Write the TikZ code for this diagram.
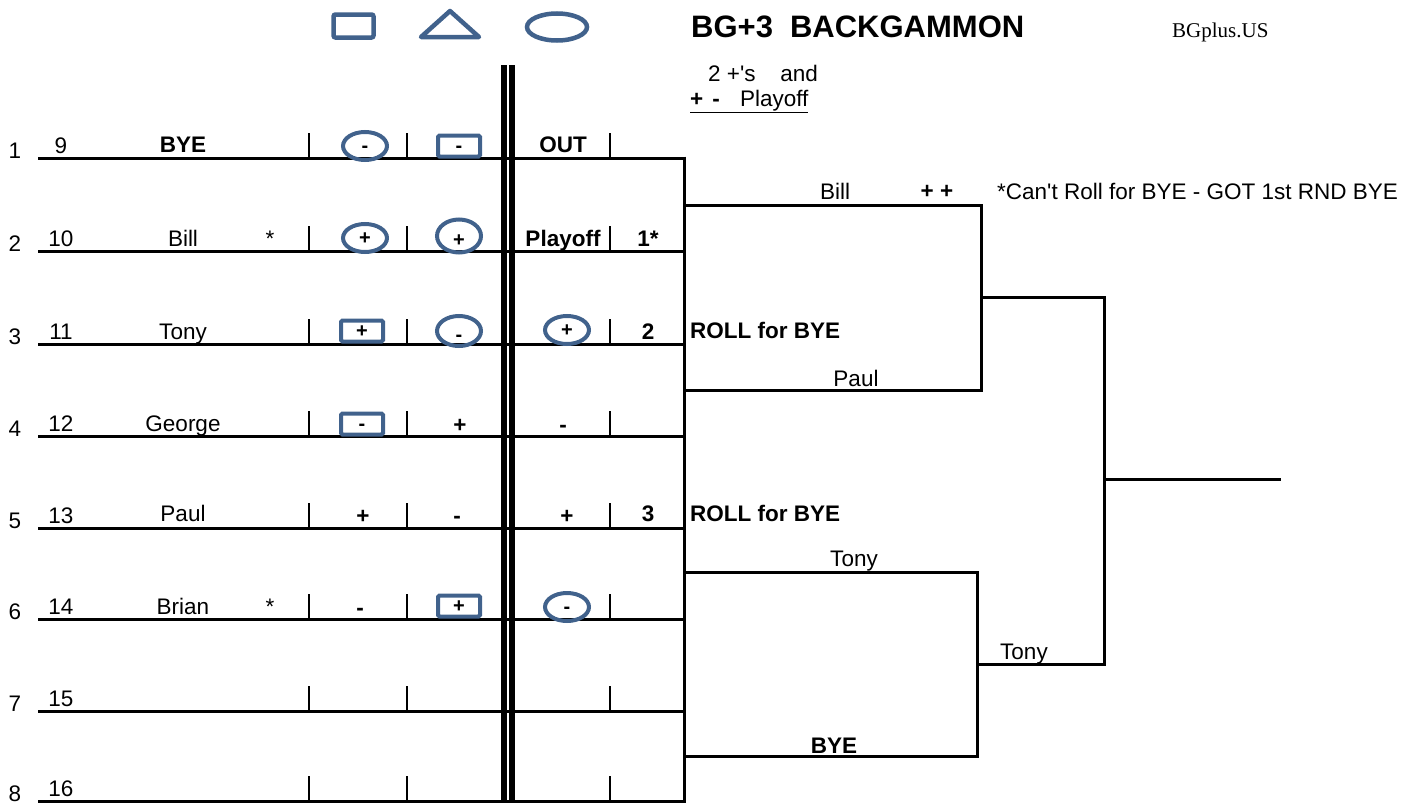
\documentclass[tikz,border=0pt]{standalone}
\usepackage{fontspec}
\setmainfont{Liberation Sans}
\newfontfamily\serifbg{Liberation Serif}
\usetikzlibrary{shapes.geometric}
\definecolor{bgblue}{RGB}{65,98,140}
\newcommand\ctrsign[2][0em]{\raisebox{\dimexpr-0.3em-#1\relax}[0pt][0pt]{#2}}
\begin{document}
\begin{tikzpicture}[x=1pt,y=-1pt,
  txt/.style={font=\fontsize{22.5}{24}\selectfont, inner sep=0pt, anchor=base},
  btxt/.style={font=\fontsize{22.5}{24}\selectfont\bfseries, inner sep=0pt, anchor=base},
  bline/.style={line width=3pt},
  tickline/.style={line width=2.8pt},
  dbar/.style={line width=5.5pt},
  circmark/.style={draw=bgblue, line width=4pt, ellipse, minimum width=44pt, minimum height=28pt, inner sep=0pt, font=\fontsize{20}{20}\selectfont\bfseries},
  rectmark/.style={draw=bgblue, line width=4pt, rectangle, rounded corners=1.5pt, minimum width=42pt, minimum height=21pt, inner sep=0pt, font=\fontsize{20}{20}\selectfont\bfseries}]
\useasboundingbox (0,0) rectangle (1414,803);

% header shapes
\node[draw=bgblue, line width=4.5pt, rounded corners=2pt, minimum width=40pt, minimum height=23pt, inner sep=0pt] (hrect) at (353.5,26) {};
\draw[bgblue, line width=4.5pt, line join=round] (421,37) -- (450,11) -- (479,37) -- cycle;
\node[draw=bgblue, line width=4.5pt, ellipse, minimum width=60pt, minimum height=27pt, inner sep=0pt] (hell) at (557,27) {};
\node[font=\fontsize{31}{33}\selectfont\bfseries, inner sep=0pt, anchor=base west] (title) at (691,37) {BG+3\hspace{0.55em}BACKGAMMON};
\node[font=\serifbg\fontsize{21}{23}\selectfont, inner sep=0pt, anchor=base west] (site) at (1172,37) {BGplus.US};
\node[txt, anchor=base west] (note1) at (708,81) {2 +\textquotesingle s\hspace{1.1em}and};
\node[txt, anchor=base west] (note2) at (690,106) {\underline{\textbf{+\hspace{0.4em}-}\hspace{0.9em}Playoff}};

% double bar
\coordinate (dbt1) at (504,65); \coordinate (dbb1) at (504,803);
\coordinate (dbt2) at (512,65); \coordinate (dbb2) at (512,803);
\draw[dbar] (dbt1) -- (dbb1);
\draw[dbar] (dbt2) -- (dbb2);

% rows
\foreach \r/\y/\s in {1/158/9,2/251/10,3/344/11,4/436/12,5/528/13,6/619/14,7/711/15,8/801/16}{
  \coordinate (ls\r) at (38,\y);
  \coordinate (le\r) at (684,\y);
  \draw[bline] (ls\r) -- (le\r);
  \node[txt] (rn\r) at (15,\y) {\r};
  \node[txt] (sd\r) at (61,\y-5) {\s};
  \foreach \x [count=\k] in {309,407,610}{
    \coordinate (tt\r-\k) at (\x,\y-25);
    \coordinate (tb\r-\k) at (\x,\y);
    \draw[tickline] (tt\r-\k) -- (tb\r-\k);
  }
}
\coordinate (vtop) at (684,156.5);
\coordinate (vbot) at (684,803);
\draw[bline] (vtop) -- (vbot);

% names
\node[btxt] (n1) at (183,152) {BYE};
\node[txt] (n2) at (183,246) {Bill};
\node[txt] (n3) at (183,339) {Tony};
\node[txt] (n4) at (183,431) {George};
\node[txt] (n5) at (183,521) {Paul};
\node[txt] (n6) at (183,614) {Brian};
\node[txt] (st2) at (270,246) {*};
\node[txt] (st6) at (270,614) {*};

% marks row 1
\node[circmark] (m1a) at (365,146) {\ctrsign{-}};
\node[rectmark] (m1b) at (459,146) {\ctrsign{-}};
\node[btxt] (m1c) at (563,152) {OUT};
% row 2
\node[circmark] (m2a) at (365,238) {\ctrsign{+}};
\node[circmark, minimum height=33pt] (m2b) at (459,236) {\ctrsign[4pt]{+}};
\node[btxt] (m2c) at (563,246) {Playoff};
\node[btxt] (m2d) at (648,246) {1*};
% row 3
\node[rectmark] (m3a) at (362,331) {\ctrsign{+}};
\node[circmark, minimum height=30pt] (m3b) at (459,331) {\ctrsign[4pt]{-}};
\node[circmark] (m3c) at (567,330) {\ctrsign{+}};
\node[btxt] (m3d) at (648,339) {2};
\node[btxt, anchor=base west] (roll1) at (690,338) {ROLL for BYE};
% row 4
\node[rectmark] (m4a) at (362,424) {\ctrsign{-}};
\node[btxt] (m4b) at (460,432) {+};
\node[btxt] (m4c) at (563,432) {-};
% row 5
\node[btxt] (m5a) at (363,523) {+};
\node[btxt] (m5b) at (457,523) {-};
\node[btxt] (m5c) at (567,523) {+};
\node[btxt] (m5d) at (648,521) {3};
\node[btxt, anchor=base west] (roll2) at (690,521) {ROLL for BYE};
% row 6
\node[btxt] (m6a) at (360,615) {-};
\node[rectmark] (m6b) at (459,606) {\ctrsign{+}};
\node[circmark] (m6c) at (567,607) {\ctrsign{-}};

% bracket
\coordinate (q1a) at (684,205); \coordinate (q1b) at (981,205);
\coordinate (q2a) at (684,390); \coordinate (q2b) at (981,390);
\draw[bline] (q1a) -- (q1b) -- (q2b) -- (q2a);
\coordinate (s1a) at (981,297); \coordinate (s1b) at (1104,297);
\coordinate (q3a) at (684,572); \coordinate (q3b) at (977,572);
\coordinate (q4a) at (684,756); \coordinate (q4b) at (977,756);
\draw[bline] (q3a) -- (q3b) -- (q4b) -- (q4a);
\coordinate (s2a) at (977,664); \coordinate (s2b) at (1104,664);
\draw[bline] (s1a) -- (s1b) -- (s2b) -- (s2a);
\coordinate (f1) at (1104,479); \coordinate (f2) at (1281,479);
\draw[bline] (f1) -- (f2);

\node[txt] (bill) at (835,199) {Bill};
\node[btxt] (pp) at (937,198) {+ +};
\node[txt, anchor=base west] (cant) at (997,199) {*Can\textquotesingle t Roll for BYE - GOT 1st RND BYE};
\node[txt] (paul) at (856,386) {Paul};
\node[txt] (tony1) at (854,566) {Tony};
\node[txt, anchor=base west] (tony2) at (1000,659) {Tony};
\node[btxt] (bye2) at (834,753) {BYE};
\end{tikzpicture}
\end{document}
